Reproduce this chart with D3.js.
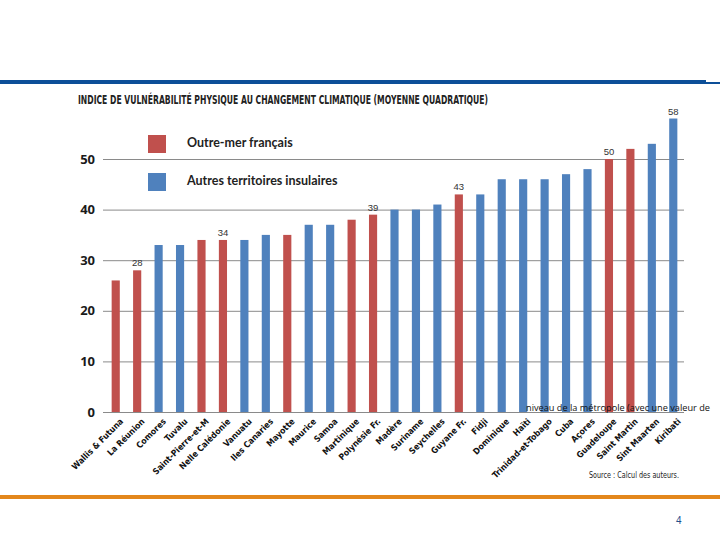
<!DOCTYPE html>
<html>
<head>
<meta charset="utf-8">
<script src="https://cdn.jsdelivr.net/npm/d3@7"></script>
<style>
  body { margin: 0; background: #fff; }
  svg { display: block; }
</style>
</head>
<body>
<svg id="chart"></svg>
<script>
const categories = ["Wallis & Futuna", "La Réunion", "Comores", "Tuvalu", "Saint-Pierre-et-M", "Nelle Calédonie",
  "Vanuatu", "Iles Canaries", "Mayotte", "Maurice", "Samoa", "Martinique", "Polynésie Fr.", "Madère",
  "Suriname", "Seychelles", "Guyane Fr.", "Fidji", "Dominique", "Haïti", "Trinidad-et-Tobago", "Cuba",
  "Açores", "Guadeloupe", "Saint Martin", "Sint Maarten", "Kiribati"];
const values = [26, 28, 33, 33, 34, 34, 34, 35, 35, 37, 37, 38, 39, 40, 40, 41, 43, 43, 46, 46, 46, 47, 48, 50, 52, 53, 58];
const groups = ["F", "F", "A", "A", "F", "F", "A", "A", "F", "A", "A", "F", "F", "A", "A", "A", "F", "A", "A", "A", "A", "A", "A", "F", "F", "A", "A"];
const shownLabels = ["La Réunion", "Nelle Calédonie", "Polynésie Fr.", "Guyane Fr.", "Guadeloupe", "Kiribati"];
const yTicks = [0, 10, 20, 30, 40, 50];
const legendNames = { F: "Outre-mer français", A: "Autres territoires insulaires" };

const width = 720, height = 540;
const svg = d3.select("#chart").attr("width", width).attr("height", height);

const color = { F: "#c0504d", A: "#4f81bd" };

// header / footer rules
svg.append("rect").attr("x", 0).attr("y", 80).attr("width", 706).attr("height", 4).attr("fill", "#0d4f98");
svg.append("rect").attr("x", 706).attr("y", 82).attr("width", 14).attr("height", 2).attr("fill", "#0d4f98");
svg.append("rect").attr("x", 0).attr("y", 495).attr("width", 720).attr("height", 4).attr("fill", "#e3871c");

// scales
const x_scale = d3.scaleBand().domain(categories).range([105, 684]).paddingInner(0.62).paddingOuter(0.31);
const y_scale = d3.scaleLinear().domain([0, 50]).range([412, 159]);

// grid
const gGrid = svg.append("g");
gGrid.selectAll("line").data(yTicks).join("line")
  .attr("x1", 103).attr("x2", 684)
  .attr("y1", d => y_scale(d) + 0.5).attr("y2", d => y_scale(d) + 0.5)
  .attr("stroke", "#8a8a8a").attr("stroke-width", 1);

// y axis labels
const y_axis = d3.axisLeft(y_scale).tickValues(yTicks).tickSize(0).tickPadding(8);
const gY = svg.append("g").attr("transform", "translate(103,0)").call(y_axis);
gY.select(".domain").remove();
gY.selectAll("text")
  .attr("font-family", "'Open Sans', 'DejaVu Sans', sans-serif")
  .attr("font-weight", "bold").attr("font-size", 13).attr("fill", "#1a1a1a");

// bars
const idx = categories.map((c, i) => i);
svg.append("g").selectAll("rect").data(idx).join("rect")
  .attr("x", i => x_scale(categories[i]))
  .attr("y", i => y_scale(values[i]))
  .attr("width", x_scale.bandwidth())
  .attr("height", i => y_scale(0) - y_scale(values[i]))
  .attr("fill", i => color[groups[i]]);

// value labels
svg.append("g").selectAll("text").data(idx.filter(i => shownLabels.includes(categories[i]))).join("text")
  .attr("x", i => x_scale(categories[i]) + x_scale.bandwidth() / 2)
  .attr("y", i => y_scale(values[i]) - 4)
  .attr("text-anchor", "middle")
  .attr("font-family", "'Liberation Sans', sans-serif")
  .attr("font-size", 9.5).attr("fill", "#333")
  .text(i => values[i]);

// x labels
const x_axis = d3.axisBottom(x_scale).tickSize(0).tickPadding(0);
const gX = svg.append("g").attr("transform", "translate(0,412)").call(x_axis);
gX.select(".domain").remove();
gX.selectAll("text")
  .attr("font-family", "'DejaVu Sans Condensed', 'DejaVu Sans', sans-serif")
  .attr("font-weight", "bold").attr("font-size", 8.6).attr("fill", "#111")
  .attr("text-anchor", "end")
  .attr("dy", 0).attr("y", 0)
  .attr("transform", "translate(8,10) rotate(-45)");

// title
svg.append("text")
  .attr("x", 78).attr("y", 104)
  .attr("font-family", "'Liberation Sans Narrow', 'DejaVu Sans Condensed', sans-serif")
  .attr("font-weight", "bold").attr("font-size", 12.5).attr("fill", "#222")
  .attr("textLength", 410).attr("lengthAdjust", "spacingAndGlyphs")
  .text("INDICE DE VULNÉRABILITÉ PHYSIQUE AU CHANGEMENT CLIMATIQUE (MOYENNE QUADRATIQUE)");

// legend
["F", "A"].forEach((k, i) => {
  const g = svg.append("g").attr("transform", `translate(148, ${135 + i * 38})`);
  g.append("rect").attr("width", 18).attr("height", 18).attr("fill", color[k]);
  g.append("text").attr("x", 39).attr("y", 12)
    .attr("font-family", "Lato, 'Open Sans', sans-serif")
    .attr("font-weight", "bold").attr("font-size", 12.5).attr("fill", "#222")
    .text(legendNames[k]);
});

// stray overlay text
svg.append("text")
  .attr("x", 526).attr("y", 411)
  .attr("font-family", "'Open Sans', sans-serif")
  .attr("font-size", 9.5).attr("fill", "#111")
  .attr("textLength", 184).attr("lengthAdjust", "spacingAndGlyphs")
  .text("niveau de la métropole (avec une valeur de");

// source
svg.append("text")
  .attr("x", 589).attr("y", 478)
  .attr("font-family", "'Liberation Sans Narrow', 'DejaVu Sans Condensed', sans-serif")
  .attr("font-size", 9).attr("fill", "#222")
  .attr("textLength", 90).attr("lengthAdjust", "spacingAndGlyphs")
  .text("Source : Calcul des auteurs.");

// page number
svg.append("text")
  .attr("x", 676).attr("y", 524)
  .attr("font-family", "'Liberation Sans', sans-serif")
  .attr("font-size", 10).attr("fill", "#1f4e8c")
  .text("4");
</script>
</body>
</html>
